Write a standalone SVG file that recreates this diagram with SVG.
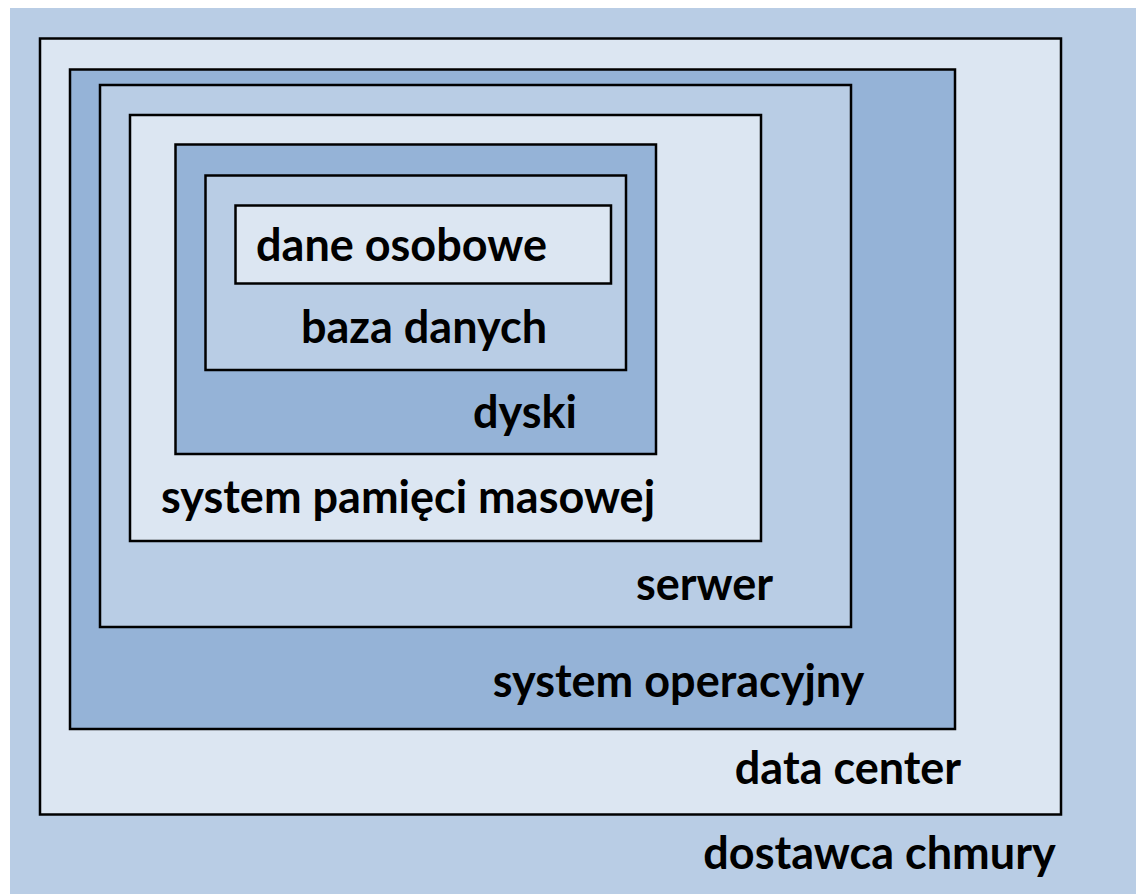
<svg xmlns="http://www.w3.org/2000/svg" width="1136" height="894" viewBox="0 0 1136 894">
  <style>
    .box { stroke: #000; stroke-width: 2.5; }
    .light { fill: #DCE6F2; }
    .mid { fill: #B9CDE5; }
    .dark { fill: #95B3D7; }
    .label { font-family: Lato, "Open Sans", "Liberation Sans", sans-serif; font-weight: bold; font-size: 45px; fill: #000; text-anchor: middle; }
  </style>
  <rect width="1136" height="894" fill="#ffffff"/>
  <!-- outermost layer: cloud provider -->
  <g id="dostawca-chmury">
    <rect x="10" y="8" width="1126" height="886" class="mid"/>
    <text class="label" x="879.5" y="869">dostawca chmury</text>
  </g>
  <g id="data-center">
    <rect x="40" y="38.5" width="1021" height="776" class="box light"/>
    <text class="label" x="848" y="784">data center</text>
  </g>
  <g id="system-operacyjny">
    <rect x="70" y="69.5" width="885" height="659.5" class="box dark"/>
    <text class="label" x="678.5" y="697">system operacyjny</text>
  </g>
  <g id="serwer">
    <rect x="100" y="85" width="751" height="542" class="box mid"/>
    <text class="label" x="704.5" y="600">serwer</text>
  </g>
  <g id="system-pamieci-masowej">
    <rect x="130" y="115" width="631" height="426" class="box light"/>
    <text class="label" x="408" y="513">system pamięci masowej</text>
  </g>
  <g id="dyski">
    <rect x="175.5" y="144.5" width="480.5" height="309.5" class="box dark"/>
    <text class="label" x="525" y="428">dyski</text>
  </g>
  <g id="baza-danych">
    <rect x="205.5" y="175.5" width="420.5" height="194.5" class="box mid"/>
    <text class="label" x="424" y="343">baza danych</text>
  </g>
  <g id="dane-osobowe">
    <rect x="235.5" y="205.5" width="375.5" height="78" class="box light"/>
    <text class="label" x="401.5" y="261">dane osobowe</text>
  </g>
</svg>
